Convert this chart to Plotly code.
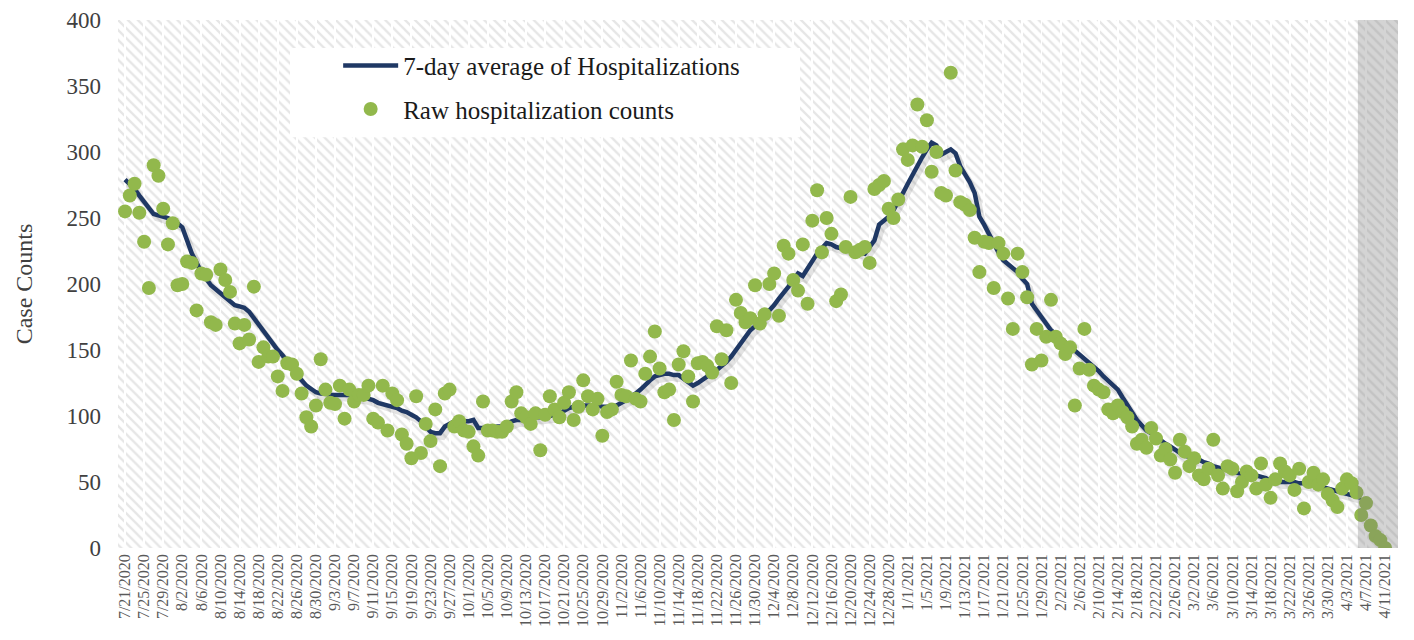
import pandas as pd
import plotly.graph_objects as go

# ---------------- data ----------------
start_date = "2020-07-21"

raw_counts = [
    255, 267, 276, 254, 232, 197, 290, 282, 257, 230,
    246, 199, 200, 217, 216, 180, 208, 207, 171, 169,
    211, 203, 194, 170, 155, 169, 158, 198, 141, 152,
    145, 145, 130, 119, 140, 139, 132, 117, 99, 92,
    108, 143, 120, 110, 109, 123, 98, 120, 111, 116,
    116, 123, 98, 95, 123, 89, 117, 112, 86, 79,
    68, 115, 72, 94, 81, 105, 62, 117, 120, 92,
    96, 89, 88, 77, 70, 111, 89, 89, 88, 88,
    92, 111, 118, 102, 99, 94, 102, 74, 101, 115,
    105, 99, 110, 118, 97, 107, 127, 115, 105, 113,
    85, 103, 105, 126, 116, 115, 142, 113, 111, 132,
    145, 164, 136, 118, 120, 97, 139, 149, 130, 111,
    140, 141, 138, 133, 168, 143, 165, 125, 188, 178,
    171, 174, 199, 170, 177, 200, 208, 176, 229, 223,
    203, 195, 230, 185, 248, 271, 224, 250, 238, 187,
    192, 228, 266, 224, 226, 228, 216, 272, 275, 278,
    257, 250, 264, 302, 294, 305, 336, 304, 324, 285,
    300, 269, 267, 360, 286, 262, 260, 256, 235, 209,
    232, 231, 197, 231, 223, 189, 166, 223, 209, 190,
    139, 166, 142, 160, 188, 160, 155, 147, 152, 108,
    136, 166, 135, 123, 120, 118, 105, 102, 108, 103,
    99, 92, 79, 82, 76, 91, 83, 70, 75, 67,
    57, 82, 73, 62, 68, 55, 52, 60, 82, 55,
    45, 62, 60, 43, 50, 58, 55, 45, 64, 48,
    38, 52, 64, 58, 55, 44, 60, 30, 50, 57,
    48, 52, 41, 36, 31, 45, 52, 49, 42, 25,
    34, 17, 9, 6, 0,
]

avg_7day = [
    279, 276, 272, 267, 262, 257, 253, 252, 251, 250,
    248, 246, 243, 233, 223, 216, 209, 204, 199, 196,
    193, 190, 187, 184, 183, 182, 179, 174, 169, 165,
    160, 155, 150, 146, 141, 137, 132, 127, 123, 120,
    118, 117, 117, 116, 116, 116, 116, 116, 115, 115,
    114, 113, 112, 110, 109, 108, 107, 106, 104, 103,
    101, 99, 96, 92, 88, 87, 87, 92, 94, 96,
    96, 96, 96, 97, 91, 91, 91, 91, 92, 92,
    94, 96, 97, 97, 98, 98, 99, 99, 99, 100,
    101, 102, 104, 106, 107, 107, 108, 108, 108, 108,
    107, 107, 106, 108, 110, 112, 115, 117, 120, 124,
    127, 130, 131, 132, 132, 131, 131, 128, 125, 123,
    125, 128, 130, 132, 135, 137, 141, 145, 150, 155,
    160, 165, 168, 172, 175, 180, 184, 189, 193, 198,
    203, 208, 206, 212, 218, 223, 227, 231, 230, 228,
    227, 227, 226, 225, 224, 223, 228, 233, 245, 248,
    251, 256, 262, 269, 276, 283, 290, 296, 302, 307,
    305, 298, 300, 302, 299, 289, 283, 277, 269, 251,
    245, 238, 230, 224, 218, 215, 212, 209, 204, 200,
    185, 180, 175, 170, 165, 162, 159, 156, 153, 150,
    147, 144, 141, 137, 134, 130, 127, 123, 120, 114,
    108, 103, 97, 93, 89, 87, 84, 81, 79, 77,
    74, 72, 70, 69, 68, 67, 65, 64, 62, 61,
    60, 59, 58, 57, 56, 56, 55, 55, 54, 53,
    51, 50, 50, 50, 50, 50, 49, 49, 48, 48,
    47, 46, 45, 44, 43, 42, 41, 40, 39, 38,
]

series_names = ["7-day average of Hospitalizations", "Raw hospitalization counts"]
y_ticks = [0, 50, 100, 150, 200, 250, 300, 350, 400]

dates = pd.date_range(start_date, periods=len(raw_counts), freq="D")
avg_dates = dates[: len(avg_7day)]
tick_dates = list(dates[::4])
tick_labels = [f"{d.month}/{d.day}/{d.year}" for d in tick_dates]

# ---------------- styling ----------------
DAY = pd.Timedelta(days=1)
x_start = dates[0] - 1.47 * DAY
x_end = dates[0] + 266.7 * DAY
shade_start = dates[0] + 258.3 * DAY
FONT = "Liberation Serif"

# background hatched bands (gaps form the light vertical lines at each tick)
band_left = [tick_dates[0] - 4 * DAY] + tick_dates
band_x = [t + 2 * DAY for t in band_left]
band_y = [y_ticks[-1]] * len(band_x)
band_w_ms = (4 - 0.4) * 86400000

fig = go.Figure()

fig.add_trace(go.Bar(
    x=band_x, y=band_y, width=[band_w_ms] * len(band_x),
    marker=dict(color="white", line=dict(width=0),
                pattern=dict(shape="\\", fgcolor="#cdcdcd", bgcolor="white",
                             size=7, solidity=0.33)),
    showlegend=False, hoverinfo="skip", xaxis="x", yaxis="y",
))

# soft drop shadow of the average line
fig.add_trace(go.Scatter(
    x=avg_dates, y=avg_7day, mode="lines",
    line=dict(color="rgba(60,60,60,0.14)", width=6),
    showlegend=False, hoverinfo="skip", xaxis="x2", yaxis="y2",
))

fig.add_trace(go.Scatter(
    x=avg_dates, y=avg_7day, mode="lines", name=series_names[0],
    line=dict(color="#1f3864", width=4.5),
    xaxis="x3", yaxis="y3", legendgroup="a",
))

fig.add_trace(go.Scatter(
    x=dates, y=raw_counts, mode="markers", name=series_names[1],
    marker=dict(color="#92b84c", size=14, line=dict(width=0)),
    xaxis="x3", yaxis="y3", legendgroup="b",
))

hidden_x = dict(type="date", visible=False, showgrid=False, zeroline=False, automargin=False)
hidden_y = dict(visible=False, showgrid=False, zeroline=False, automargin=False)

fig.update_layout(
    width=1398, height=624,
    margin=dict(l=110, r=8, t=12, b=84, autoexpand=False),
    paper_bgcolor="white", plot_bgcolor="white",
    bargap=0,
    font=dict(family=FONT, color="#404040"),
    xaxis=dict(
        type="date", range=[x_start, x_end], automargin=False,
        tickmode="array", tickvals=tick_dates, ticktext=tick_labels,
        tickangle=-90, tickfont=dict(family=FONT, size=16, color="#595959"),
        showgrid=False, zeroline=False, showline=False, ticks="",
        ticklabelstandoff=2,
    ),
    yaxis=dict(
        range=[0, 400], tickmode="array", tickvals=y_ticks, automargin=False,
        tickfont=dict(family=FONT, size=23, color="#404040"),
        title=dict(text="Case Counts", font=dict(family=FONT, size=24, color="#404040"),
                   standoff=27),
        showgrid=False, zeroline=False, showline=False, ticks="",
        ticklabelstandoff=16,
    ),
    xaxis2=dict(hidden_x, overlaying="x", range=[x_start - 0.6 * DAY, x_end - 0.6 * DAY]),
    yaxis2=dict(hidden_y, overlaying="y", range=[3, 403]),
    xaxis3=dict(hidden_x, overlaying="x", range=[x_start, x_end]),
    yaxis3=dict(hidden_y, overlaying="y", range=[0, 400]),
    legend=dict(
        x=0.172, y=0.957, xanchor="left", yanchor="top",
        bgcolor="rgba(0,0,0,0)", font=dict(family=FONT, size=25, color="#1a1a1a"),
        itemwidth=55, tracegroupgap=8, traceorder="grouped",
    ),
    shapes=[
        dict(type="rect", xref="paper", yref="paper",
             x0=0.1344, x1=0.5328, y0=0.778, y1=0.947,
             fillcolor="white", line=dict(width=0), layer="above"),
        dict(type="rect", xref="x", yref="paper",
             x0=shade_start, x1=x_end, y0=0, y1=1,
             fillcolor="rgba(120,120,120,0.32)", line=dict(width=0), layer="above"),
    ],
)

fig.write_html("out.html")
